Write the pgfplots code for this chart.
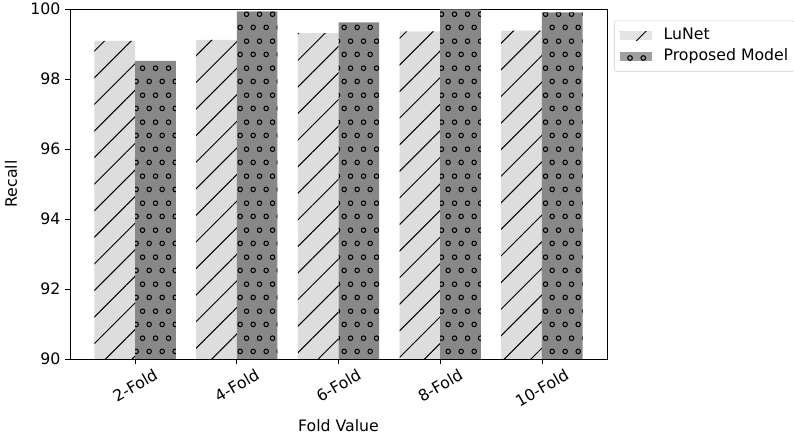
\documentclass[border=0pt]{standalone}
\usepackage{fontspec}
\setmainfont{DejaVu Sans}
\usepackage{pgfplots}
\pgfplotsset{compat=1.18}
\usetikzlibrary{patterns.meta}
\definecolor{lunetfill}{HTML}{DDDDDD}
\definecolor{propfill}{HTML}{888888}
\definecolor{legframe}{HTML}{CCCCCC}
\pgfdeclarepattern{
  name=hatchcircles,
  type=uncolored,
  bottom left={\pgfpoint{0pt}{0pt}},
  top right={\pgfpoint{10pt}{20pt}},
  tile size={\pgfpoint{10pt}{20pt}},
  code={
    \pgfsetlinewidth{0.8pt}
    \pgfpathcircle{\pgfpoint{2.5pt}{5pt}}{1.75pt}
    \pgfpathcircle{\pgfpoint{7.5pt}{15pt}}{1.75pt}
    \pgfusepath{stroke}
  }
}
\begin{document}
\begin{tikzpicture}
\useasboundingbox (0,0) rectangle (595.5pt,328.5pt);
\begin{axis}[
  at={(52.5pt,59.25pt)}, anchor=south west,
  scale only axis, width=402.75pt, height=262.5pt,
  font=\fontsize{11.8}{14}\selectfont,
  /pgf/number format/assume math mode=true,
  ymin=90, ymax=100, ytick={90,92,...,100},
  xmin=-0.64, xmax=4.64, xtick={0,1,2,3,4},
  xticklabels={\rotatebox{30}{2-Fold},\rotatebox{30}{4-Fold},\rotatebox{30}{6-Fold},\rotatebox{30}{8-Fold},\rotatebox{30}{10-Fold}},
  xticklabel style={anchor=north, inner sep=2pt, yshift=-1pt},
  ybar=0pt, bar width=0.4,
  tick align=outside, tick pos=left,
  major tick length=3.75pt,
  axis line style={line width=0.6pt},
  every tick/.style={black, line width=0.6pt},
  xlabel={Fold Value}, ylabel={Recall},
  xlabel style={yshift=-3pt},
  ylabel style={yshift=3pt},
  legend style={at={(1.013,0.967)}, anchor=north west,
    draw=legframe, rounded corners=2pt, fill=white, fill opacity=0.8, text opacity=1,
    font=\fontsize{11.8}{14}\selectfont, inner xsep=4.25pt, inner ysep=4.5pt, row sep=2.55pt,
    nodes={inner sep=1pt, text height=8.7pt, text depth=2.5pt},
    /tikz/every odd column/.append style={column sep=7.75pt}},
  legend cell align=left,
  legend image code/.code={\path[#1, draw=none, sharp corners] (0pt,-3.4pt) rectangle (24pt,3.4pt);},
]
\addplot[fill=lunetfill, draw=none, postaction={pattern={Lines[angle=45,distance=14.1pt,line width=0.75pt]}, pattern color=black}]
  coordinates {(0,99.09) (1,99.12) (2,99.31) (3,99.36) (4,99.38)};
\addlegendentry{LuNet}
\addplot[fill=propfill, draw=none, postaction={pattern=hatchcircles, pattern color=black}]
  coordinates {(0,98.52) (1,99.93) (2,99.62) (3,99.99) (4,99.90)};
\addlegendentry{Proposed Model}
\end{axis}
\end{tikzpicture}
\end{document}
